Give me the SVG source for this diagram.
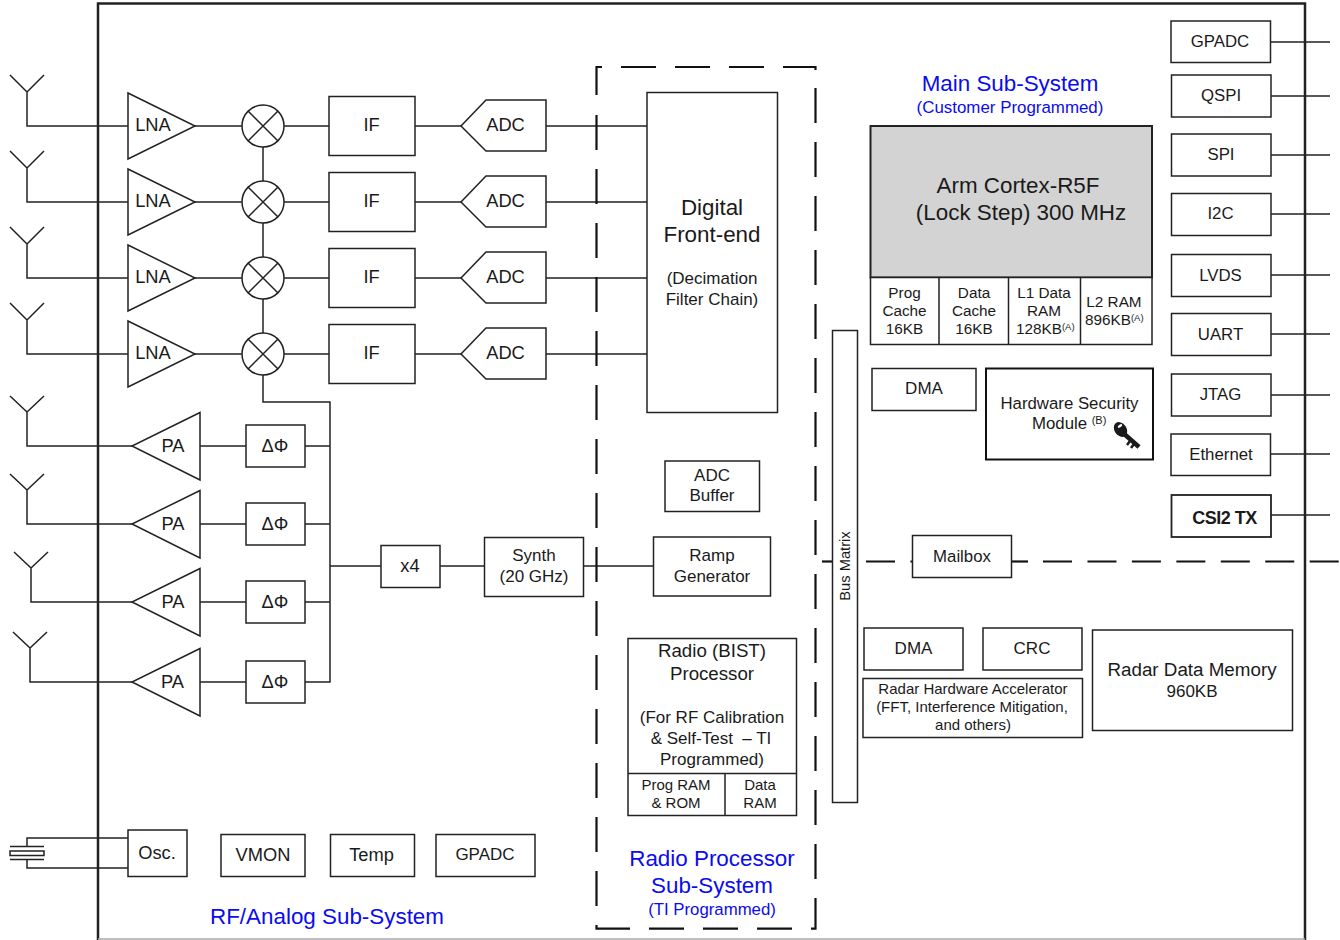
<svg xmlns="http://www.w3.org/2000/svg" width="1340" height="940" viewBox="0 0 1340 940">
<style>
text{font-family:"Liberation Sans",Arial,sans-serif;fill:#1a1a1a;text-anchor:middle;font-size:18.300px}
.b{fill:#fff;stroke:#222;stroke-width:1.5}
.h{fill:#fff;stroke:#111;stroke-width:2}
.l{fill:none;stroke:#222;stroke-width:1.5}
.f{fill:none;stroke:#222;stroke-width:2.5}
.d{fill:none;stroke:#111;stroke-width:2.2;stroke-dasharray:35 19}
.e{fill:none;stroke:#111;stroke-width:2.2}
.g{fill:none;stroke:#111;stroke-width:2;stroke-dasharray:29 15.450}
.blue{fill:#0b0bee}
.big{font-size:22.400px}
.n17{font-size:17px}
.n15{font-size:15px}
.n165{font-size:16.800px}
.mem{font-size:15.300px}
.acc{font-size:15px}
</style>
<rect width="1340" height="940" fill="#fff"/>
<g id="connectors">
<path class="l" d="M10 75L27 92L44 75M27 92V126H128M10 151L27 168L44 151M27 168V202H128M10 227L27 244L44 227M27 244V278H128M10 303L27 320L44 303M27 320V354H128"/>
<path class="l" d="M10 396L27 412L44 396M27 412V446H132M10 474L27 490L44 474M27 490V524H132M14 552L31 568L48 552M31 568V602H132M13 632L30 648L47 632M30 648V682H132"/>
<path class="l" d="M195 126H242M284 126H329M195 202H242M284 202H329M195 278H242M284 278H329M195 354H242M284 354H329"/>
<path class="l" d="M263 147V181M263 223V257M263 299V333M263 375V402H330V682H305M305 446H330M305 524H330M305 602H330M330 566H381M440 566H484M583 566H654"/>
<path class="l" d="M200 446H246M200 524H246M200 602H246M200 682H246"/>
<path class="l" d="M415 126H461M546 126H647M415 202H461M546 202H647M415 278H461M546 278H647M415 354H461M546 354H647"/>
<path class="l" d="M1271 42H1330M1271 96H1330M1271 155H1330M1271 214H1330M1271 275H1330M1271 334H1330M1271 395H1330M1271 454H1330M1271 515H1330"/>
<path class="l" d="M128 838H27V846.500M128 868H27V859.500"/>
<path class="l" d="M10 846.500H44M10 859.500H44"/>
<rect class="b" x="10" y="851" width="34" height="4.500"/>
</g>
<g id="frame">
<path class="f" d="M98 940V3.500H1305V940"/>
<path d="M98 939H1305" stroke="#aaa" stroke-width="1.500" fill="none"/>
</g>
<g id="radio-boundary">
<path class="e" d="M596.500 95V67H602M596.500 925V928.700H630M811 928.700H815.500V898M783 67H815.500V70"/>
<path class="d" d="M596.500 115V925"/>
<path class="d" d="M815.500 88V898"/>
<path class="d" d="M621 67H783"/>
<path class="d" d="M649 928.700H811"/>
<path class="e" d="M822 561.500H832"/>
<path class="g" d="M866 561.500H912"/>
<path class="e" d="M1011 561.500H1028"/>
<path class="g" d="M1043 561.500H1340"/>
</g>
<g id="lna"><g id="lna1"><path class="b" d="M128 93L195 126L128 159Z"/><text x="153" y="131">LNA</text></g>
<g id="lna2"><path class="b" d="M128 169L195 202L128 235Z"/><text x="153" y="207">LNA</text></g>
<g id="lna3"><path class="b" d="M128 245L195 278L128 311Z"/><text x="153" y="283">LNA</text></g>
<g id="lna4"><path class="b" d="M128 321L195 354L128 387Z"/><text x="153" y="359">LNA</text></g></g>
<g id="mixers">
<g id="mix1"><circle class="b" cx="263" cy="126" r="21"/><path class="l" d="M248 111L278 141M278 111L248 141"/></g>
<g id="mix2"><circle class="b" cx="263" cy="202" r="21"/><path class="l" d="M248 187L278 217M278 187L248 217"/></g>
<g id="mix3"><circle class="b" cx="263" cy="278" r="21"/><path class="l" d="M248 263L278 293M278 263L248 293"/></g>
<g id="mix4"><circle class="b" cx="263" cy="354" r="21"/><path class="l" d="M248 339L278 369M278 339L248 369"/></g>
</g>
<g id="if"><g id="if1"><rect class="b" x="329" y="96.500" width="86" height="59"/><text x="371.500" y="131">IF</text></g>
<g id="if2"><rect class="b" x="329" y="172.500" width="86" height="59"/><text x="371.500" y="207">IF</text></g>
<g id="if3"><rect class="b" x="329" y="248.500" width="86" height="59"/><text x="371.500" y="283">IF</text></g>
<g id="if4"><rect class="b" x="329" y="324.500" width="86" height="59"/><text x="371.500" y="359">IF</text></g></g>
<g id="adc"><g id="adc1"><path class="b" d="M546 100H486L461 126L486 151H546Z"/><text x="505.500" y="131">ADC</text></g>
<g id="adc2"><path class="b" d="M546 176H486L461 202L486 227H546Z"/><text x="505.500" y="207">ADC</text></g>
<g id="adc3"><path class="b" d="M546 252H486L461 278L486 303H546Z"/><text x="505.500" y="283">ADC</text></g>
<g id="adc4"><path class="b" d="M546 328H486L461 354L486 379H546Z"/><text x="505.500" y="359">ADC</text></g></g>
<g id="pa"><g id="pa1"><path class="b" d="M200 412.500L132 446L200 480Z"/><text x="173" y="452">PA</text></g>
<g id="pa2"><path class="b" d="M200 490.500L132 524L200 558Z"/><text x="173" y="530">PA</text></g>
<g id="pa3"><path class="b" d="M200 568.500L132 602L200 636Z"/><text x="173" y="608">PA</text></g>
<g id="pa4"><path class="b" d="M200 648.500L132 682L200 716Z"/><text x="172.500" y="688">PA</text></g></g>
<g id="phase"><g id="ph1"><rect class="b" x="246" y="425" width="59" height="42"/><text x="275" y="452">ΔΦ</text></g>
<g id="ph2"><rect class="b" x="246" y="503" width="59" height="42"/><text x="275" y="530">ΔΦ</text></g>
<g id="ph3"><rect class="b" x="246" y="581" width="59" height="42"/><text x="275" y="608">ΔΦ</text></g>
<g id="ph4"><rect class="b" x="246" y="661" width="59" height="42"/><text x="275" y="688">ΔΦ</text></g></g>
<g id="x4"><rect class="b" x="381" y="545.500" width="59" height="42"/><text x="410" y="572">x4</text></g>
<g id="synth"><rect class="b" x="484.500" y="537.500" width="99" height="59"/><text x="534" y="561" class="n17">Synth</text><text x="534" y="582" class="n17">(20 GHz)</text></g>
<g id="dfe"><rect class="b" x="647" y="92.500" width="130.500" height="320"/><text x="712" y="215" class="big">Digital</text><text x="712" y="242" class="big">Front-end</text><text x="712" y="284" class="n17">(Decimation</text><text x="712" y="305" class="n17">Filter Chain)</text></g>
<g id="adcbuf"><rect class="b" x="665" y="461" width="94.500" height="50.500"/><text x="712" y="481" class="n17">ADC</text><text x="712" y="501" class="n17">Buffer</text></g>
<g id="ramp"><rect class="b" x="653.500" y="537" width="117" height="59"/><text x="712" y="561" class="n17">Ramp</text><text x="712" y="582" class="n17">Generator</text></g>
<g id="bist"><rect class="b" x="628" y="638.500" width="168.500" height="177"/><path class="l" d="M628 773.500H796.500M725 773.500V815.500"/>
<text x="712" y="657" style="font-size:18.700px">Radio (BIST)</text><text x="712" y="680" style="font-size:18.700px">Processor</text><text x="712" y="723" class="n17">(For RF Calibration</text><text x="711" y="744" class="n17">&amp; Self-Test &#160;– TI</text><text x="712" y="765" class="n17">Programmed)</text>
<text x="676" y="790" class="n15">Prog RAM</text><text x="676" y="808" class="n15">&amp; ROM</text><text x="760" y="790" class="n15">Data</text><text x="760" y="808" class="n15">RAM</text></g>
<g id="osc"><rect class="b" x="128" y="830" width="59" height="46.500"/><text x="157" y="859">Osc.</text></g>
<g id="vmon"><rect class="b" x="221" y="834.500" width="84" height="42"/><text x="263" y="861">VMON</text></g>
<g id="temp"><rect class="b" x="330.500" y="834.500" width="84" height="42"/><text x="371.500" y="861">Temp</text></g>
<g id="gpadc2"><rect class="b" x="436" y="834.500" width="99" height="42"/><text x="485" y="860" class="n17">GPADC</text></g>
<g id="labels"><text x="327" y="924" class="blue big">RF/Analog Sub-System</text><text x="712" y="866" class="blue big">Radio Processor</text><text x="712" y="893" class="blue big">Sub-System</text><text x="712" y="915" class="blue" style="font-size:16.800px">(TI Programmed)</text><text x="1010" y="91" class="blue big">Main Sub-System</text><text x="1010" y="113" class="blue" style="font-size:16.900px">(Customer Programmed)</text></g>
<g id="cortex"><rect x="870.500" y="126" width="281.500" height="151.500" fill="#d3d3d3" stroke="#222" stroke-width="2"/><text x="1018" y="193" class="big">Arm Cortex-R5F</text><text x="1021" y="220" class="big">(Lock Step) 300 MHz</text></g>
<g id="memories"><rect class="b" x="870.500" y="277.500" width="281.500" height="67"/><path class="l" d="M939 277.500V344.500M1008.500 277.500V344.500M1080.500 277.500V344.500"/>
<text x="904.500" y="298" class="mem">Prog</text><text x="904.500" y="316" class="mem">Cache</text><text x="904.500" y="334" class="mem">16KB</text>
<text x="974" y="298" class="mem">Data</text><text x="974" y="316" class="mem">Cache</text><text x="974" y="334" class="mem">16KB</text>
<text x="1044" y="298" class="mem">L1 Data</text><text x="1044" y="316" class="mem">RAM</text><text x="1016" y="334" class="mem" style="text-anchor:start">128KB<tspan style="font-size:9.500px" dy="-4">(A)</tspan></text>
<text x="1114" y="307" class="mem">L2 RAM</text><text x="1085" y="325" class="mem" style="text-anchor:start">896KB<tspan style="font-size:9.500px" dy="-4">(A)</tspan></text></g>
<g id="dma1"><rect class="b" x="872" y="368.500" width="104" height="42"/><text x="924" y="394" class="n17">DMA</text></g>
<g id="hsm"><rect class="h" x="986" y="368.500" width="167" height="91"/><text x="1069.500" y="409" class="n165">Hardware Security</text><text x="1032" y="429" class="n165" style="text-anchor:start">Module <tspan style="font-size:11px" dy="-5">(B)</tspan></text>
<g id="key"><path d="M1122 432L1139 447" stroke="#1a1a1a" stroke-width="4.500" fill="none"/><path d="M1130 441l-3 4M1134 444l-3 4" stroke="#1a1a1a" stroke-width="2.500"/><ellipse cx="1120.500" cy="429.500" rx="6" ry="8" transform="rotate(-35 1120.500 429.500)" fill="#1a1a1a"/><ellipse cx="1120" cy="426" rx="2.500" ry="1.300" transform="rotate(-35 1120 426)" fill="#fff"/></g></g>
<g id="gpadc"><rect class="b" x="1171" y="21" width="99.500" height="41.500"/><text x="1220" y="47" class="n165">GPADC</text></g>
<g id="qspi"><rect class="b" x="1171.500" y="75" width="99.500" height="42"/><text x="1221" y="101" class="n165">QSPI</text></g>
<g id="spi"><rect class="b" x="1171.500" y="134" width="99.500" height="42"/><text x="1221" y="160" class="n165">SPI</text></g>
<g id="i2c"><rect class="b" x="1171.500" y="193.500" width="99.500" height="42"/><text x="1220.500" y="219" class="n165">I2C</text></g>
<g id="lvds"><rect class="b" x="1171.500" y="254.500" width="99.500" height="42"/><text x="1220.500" y="281" class="n165">LVDS</text></g>
<g id="uart"><rect class="b" x="1171.500" y="313.500" width="99.500" height="42"/><text x="1220.500" y="340" class="n165">UART</text></g>
<g id="jtag"><rect class="b" x="1171.500" y="374" width="99.500" height="42"/><text x="1220.500" y="400" class="n165">JTAG</text></g>
<g id="eth"><rect class="b" x="1171" y="434" width="99.500" height="41.500"/><text x="1221" y="460" class="n165">Ethernet</text></g>
<g id="csi"><rect class="b" style="stroke-width:1.800" x="1171.500" y="495" width="99.500" height="42"/><text x="1224.500" y="524" style="font-weight:bold;font-size:18px;letter-spacing:-.5px">CSI2 TX</text></g>
<g id="busmatrix"><rect class="b" x="832.500" y="330.500" width="25" height="472"/><text transform="translate(850 566) rotate(-90)" style="font-size:14.700px">Bus Matrix</text></g>
<g id="mailbox"><rect class="b" x="912.500" y="535.500" width="99" height="42"/><text x="962" y="562" class="n165">Mailbox</text></g>
<g id="dma2"><rect class="b" x="864" y="628" width="99" height="42"/><text x="913.500" y="654" class="n17">DMA</text></g>
<g id="crc"><rect class="b" x="983" y="628" width="99" height="42"/><text x="1032" y="654" class="n17">CRC</text></g>
<g id="hwa"><rect class="b" x="863" y="678.500" width="219.500" height="59"/><text x="973" y="694" class="acc">Radar Hardware Accelerator</text><text x="972" y="712" class="acc">(FFT, Interference Mitigation,</text><text x="973" y="730" class="acc">and others)</text></g>
<g id="radarmem"><rect class="b" x="1092.500" y="630" width="200" height="100.500"/><text x="1192" y="676" style="font-size:18.800px">Radar Data Memory</text><text x="1192" y="697" class="n17">960KB</text></g>
</svg>
